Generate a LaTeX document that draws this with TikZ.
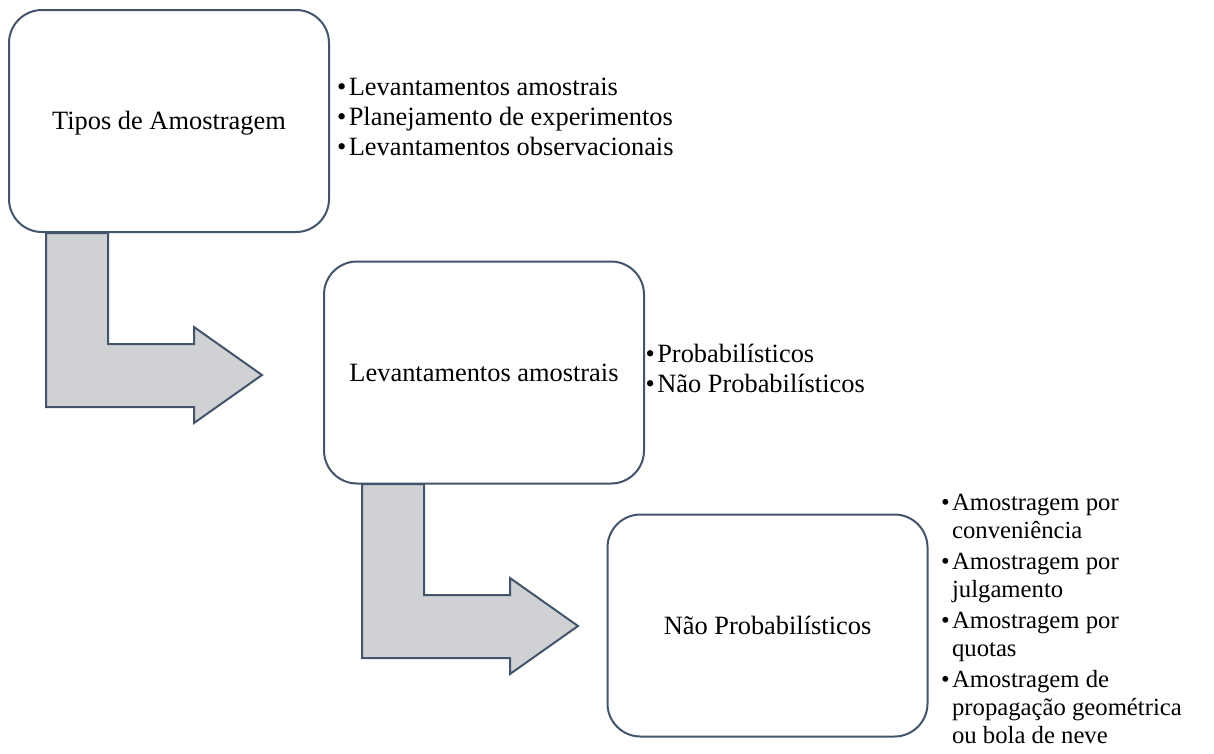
\documentclass[tikz,border=0pt]{standalone}
\usepackage{fontspec}
\setmainfont{Liberation Serif}
\usetikzlibrary{calc}

\definecolor{edge}{HTML}{44546A}
\definecolor{arrowfill}{HTML}{CFD1D5}

\newcommand\bigfont{\fontsize{26.4}{28.5}\selectfont}
\newcommand\smallfont{\fontsize{24.7}{28}\selectfont}
\newcommand\bul{\makebox[0.44em][l]{•}}
\newcommand\hang{\hspace*{0.44em}}

\tikzset{
  box/.style={draw=edge, line width=2pt, fill=white, rounded corners=33pt,
    minimum width=320pt, minimum height=222pt, inner sep=0pt,
    font=\bigfont, text height=20pt, text depth=3pt},
  item/.style={anchor=base west, inner sep=0pt, font=\bigfont},
  subitem/.style={anchor=base west, inner sep=0pt, font=\smallfont},
  bentarrow/.pic={
    \draw[draw=edge, line width=2pt, fill=arrowfill, line join=miter]
      (0,0) -- (62,0) -- (62,111) -- (148,111) -- (148,94) -- (216,142)
      -- (148,190) -- (148,174) -- (0,174) -- cycle;
  }
}

\begin{document}
\begin{tikzpicture}[x=1pt, y=-1pt]
\useasboundingbox (0,0) rectangle (1214,753);

% block arrows leading from one stage to the next
\coordinate (a1) at (46,233);
\coordinate (a2) at (362,484);
\pic at (a1) {bentarrow};
\pic at (a2) {bentarrow};

% stages
\node[box] (b1) at (169,121) {Tipos de Amostragem};
\node[box] (b2) at (484,372.5) {Levantamentos amostrais};
\node[box] (b3) at (767.5,625.5) {Não Probabilísticos};

% bullet lists beside each stage
\node[item] (t1) at (337,95) {\bul Levantamentos amostrais};
\node[item] (t2) at (337,125) {\bul Planejamento de experimentos};
\node[item] (t3) at (337,155) {\bul Levantamentos observacionais};

\node[item] (p1) at (645.5,362.5) {\bul Probabilísticos};
\node[item] (p2) at (645.5,392.5) {\bul Não Probabilísticos};

\node[subitem] (n1) at (941,510) {\bul Amostragem por};
\node[subitem] (n1b) at (941,538) {\hang conveniência};
\node[subitem] (n2) at (941,569) {\bul Amostragem por};
\node[subitem] (n2b) at (941,597) {\hang julgamento};
\node[subitem] (n3) at (941,628) {\bul Amostragem por};
\node[subitem] (n3b) at (941,656) {\hang quotas};
\node[subitem] (n4) at (941,687) {\bul Amostragem de};
\node[subitem] (n4b) at (941,715) {\hang propagação geométrica};
\node[subitem] (n4c) at (941,743) {\hang ou bola de neve};
\end{tikzpicture}
\end{document}
